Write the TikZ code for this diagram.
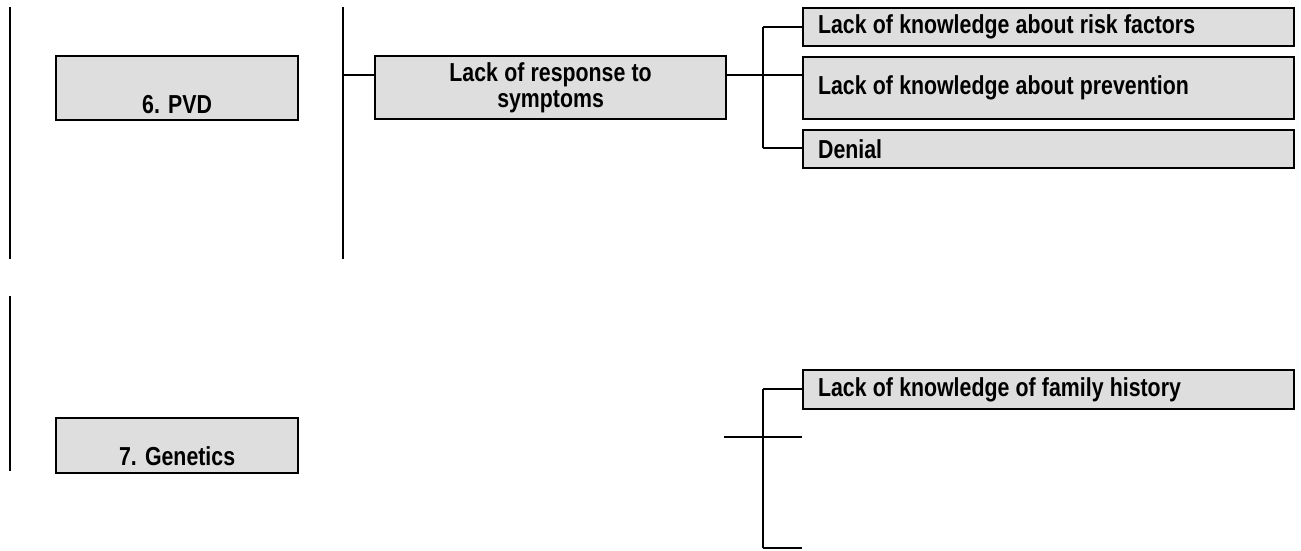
\documentclass[tikz,border=0pt]{standalone}
\usepackage{fontspec}
\newfontfamily\labfont{Liberation Sans}[FakeStretch=0.82, WordSpace=1.05]
\definecolor{boxgray}{HTML}{DEDEDE}
\tikzset{labtext/.style={font=\labfont\bfseries\fontsize{26}{26}\selectfont}}
\begin{document}
\begin{tikzpicture}[x=1pt,y=-1pt,
  every node/.style={labtext},
  conn/.style={line width=2.2pt},
  catbox/.style={draw, line width=2.2pt, fill=boxgray, minimum width=242pt, inner sep=0pt, anchor=north west},
  causebox/.style={draw, line width=2.2pt, fill=boxgray, minimum width=351pt, minimum height=63pt, text width=340pt, align=flush center, inner sep=0pt, anchor=north west},
  leafbox/.style={draw, line width=2.2pt, fill=boxgray, minimum width=491pt, text width=461pt, inner xsep=15pt, inner ysep=0pt, align=flush left, anchor=north west}]
\useasboundingbox (0,0) rectangle (1301,550);
% spine lines
\coordinate (s1a) at (10,7);   \coordinate (s1b) at (10,259);
\coordinate (s2a) at (343,7);  \coordinate (s2b) at (343,259);
\coordinate (s3a) at (10,296); \coordinate (s3b) at (10,471);
\draw[conn] (s1a) -- (s1b);
\draw[conn] (s2a) -- (s2b);
\draw[conn] (s3a) -- (s3b);
% category boxes
\node[catbox, minimum height=64pt, label={[anchor=base, yshift=8pt, labtext]south:6. PVD}] (pvd) at (55,55) {};
\node[catbox, minimum height=55pt, label={[anchor=base, yshift=9pt, labtext]south:7. Genetics}] (gen) at (55,417) {};
% cause box
\node[causebox] (resp) at (374,55) {Lack of response to\\symptoms};
% leaf boxes
\node[leafbox, minimum height=38pt] (risk) at (802,7) {Lack of knowledge about risk factors};
\node[leafbox, minimum height=62pt] (prev) at (802,56) {Lack of knowledge about prevention};
\node[leafbox, minimum height=38pt] (den) at (802,129) {Denial};
\node[leafbox, minimum height=39pt] (fam) at (802,369) {Lack of knowledge of family history};
% connectors upper
\coordinate (j1) at (343,75);
\coordinate (b1) at (763,75);
\coordinate (b1t) at (763,27);
\coordinate (b1b) at (763,148);
\draw[conn] (j1) -- (j1 -| resp.west);
\draw[conn] (b1 -| resp.east) -- (b1 -| prev.west);
\draw[conn] (b1t) -- (b1b);
\draw[conn] (b1t) -- (b1t -| risk.west);
\draw[conn] (b1b) -- (b1b -| den.west);
% connectors lower
\coordinate (h2a) at (724,437);
\coordinate (h2b) at (802,437);
\coordinate (b2t) at (763,389);
\coordinate (b2b) at (763,548);
\coordinate (b2e) at (802,548);
\draw[conn] (h2a) -- (h2b);
\draw[conn] (b2t) -- (b2b);
\draw[conn] (b2t) -- (b2t -| fam.west);
\draw[conn] (b2b) -- (b2e);
\end{tikzpicture}
\end{document}
